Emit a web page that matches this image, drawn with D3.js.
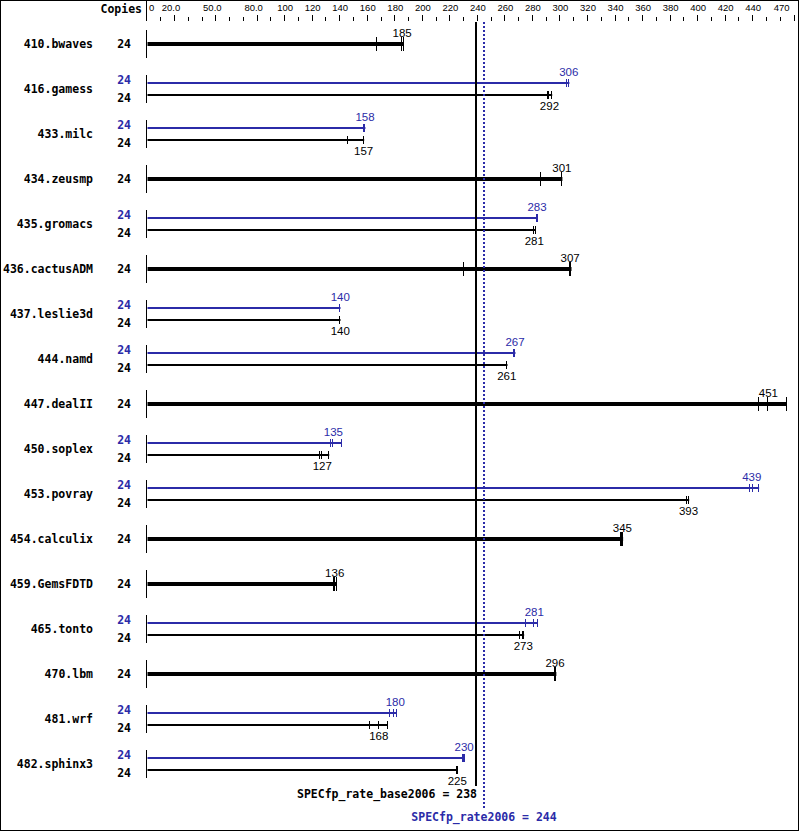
<!DOCTYPE html>
<html>
<head>
<meta charset="utf-8">
<script src="https://cdn.jsdelivr.net/npm/d3@7"></script>
<style>
  html, body { margin: 0; padding: 0; background: #fff; }
  svg { display: block; }
</style>
</head>
<body>
<script>
// ---- data ----
const benchmarks = ["410.bwaves","416.gamess","433.milc","434.zeusmp","435.gromacs","436.cactusADM","437.leslie3d","444.namd","447.dealII","450.soplex","453.povray","454.calculix","459.GemsFDTD","465.tonto","470.lbm","481.wrf","482.sphinx3"];
const copiesBase = [24,24,24,24,24,24,24,24,24,24,24,24,24,24,24,24,24];
const copiesPeak = [null,24,24,null,24,null,24,24,null,24,24,null,null,24,null,24,24];
const baseScores = [185,292,157,301,281,307,140,261,451,127,393,345,136,273,296,168,225];
const peakScores = [null,306,158,null,283,null,140,267,null,135,439,null,null,281,null,180,230];
const baseRuns = [
  [167,185,186],[291,292,294],[145.6,157,157.4],[285.7,301,301.4],[280.5,281,282],
  [230,307,308],[139.8,140,140.2],[261,261,261.5],[444,451,464.5],[125.5,127,132],
  [392,393,393.5],[344,345,345.5],[135.7,136,137.6],[270.7,273,273.6],[296,296.5,297],
  [161.3,168,174.4],[224.5,225,225.3]
];
const peakRuns = [
  null,[304.5,306,306.5],[157.5,158,158.3],null,[283,283,283.5],
  null,[139.8,140,140.2],[266,267,267.3],null,[133,135,141],
  [438,439.5,444.3],null,null,[275,281,283.5],null,
  [176.5,179,181.2],[229.5,230,230.3]
];
const majorTicks = [0,20,50,80,100,120,140,160,180,200,220,240,260,280,300,320,340,360,380,400,420,440,470];
const majorTickLabels = ["0","20.0","50.0","80.0","100","120","140","160","180","200","220","240","260","280","300","320","340","360","380","400","420","440","470"];
const minorTicks = [10,30,40,60,70,90,110,130,150,170,190,210,230,250,270,290,310,330,350,370,390,410,430,450,460];
const baseMeanLabel = "SPECfp_rate_base2006 = 238";
const peakMeanLabel = "SPECfp_rate2006 = 244";
const baseMean = 238;
const peakMean = 244;

// ---- layout ----
const W = 799, H = 831;
const BLUE = "#2b2ba8";
const MONO = "'DejaVu Sans Mono', 'Liberation Mono', monospace";
const SANS = "'Liberation Sans', Arial, sans-serif";

const svg = d3.select("body").append("svg").attr("width", W).attr("height", H);

const x = d3.scaleLinear().domain([0, 470]).range([147.5, 794.5]);
const y = d3.scalePoint().domain(benchmarks).range([44, 764]);

// border
svg.append("rect").attr("x", 0.5).attr("y", 0.5).attr("width", W - 1).attr("height", H - 1)
  .attr("fill", "none").attr("stroke", "#000");

// top axis
const axisG = svg.append("g");
axisG.append("line").attr("x1", 146.5).attr("x2", 146.5).attr("y1", 0).attr("y2", 21)
  .attr("stroke", "#000");
axisG.selectAll("line.maj").data(majorTicks.filter(d => d > 0)).join("line")
  .attr("class", "maj")
  .attr("x1", d => Math.round(x(d)) - 0.5).attr("x2", d => Math.round(x(d)) - 0.5)
  .attr("y1", 15).attr("y2", 21).attr("stroke", "#000");
axisG.selectAll("line.min").data(minorTicks).join("line")
  .attr("class", "min")
  .attr("x1", d => Math.round(x(d)) - 0.5).attr("x2", d => Math.round(x(d)) - 0.5)
  .attr("y1", 17).attr("y2", 21).attr("stroke", "#000");
axisG.selectAll("text").data(majorTicks).join("text")
  .attr("x", (d, i) => {
    const l = majorTickLabels[i];
    if (d === 0) return x(d) + 1.5;
    if (d === 470) return x(d) - 5;
    if (l.indexOf(".") >= 0) return x(d) - 4;
    return x(d);
  })
  .attr("y", 11)
  .attr("text-anchor", d => d === 0 ? "start" : (d === 470 ? "end" : "middle"))
  .attr("font-family", SANS).attr("font-size", "9.5px").attr("fill", "#000")
  .text((d, i) => majorTickLabels[i]);

svg.append("text").attr("x", 142).attr("y", 13).attr("text-anchor", "end")
  .attr("font-family", MONO).attr("font-weight", "bold").attr("font-size", "11.5px")
  .text("Copies");

// rows
const rows = svg.append("g").selectAll("g").data(benchmarks).join("g");

rows.each(function(name, i) {
  const g = d3.select(this);
  const cy = y(name);
  const hasPeak = peakScores[i] !== null;

  g.append("line").attr("x1", 146.5).attr("x2", 146.5)
    .attr("y1", cy - 14).attr("y2", cy + 14).attr("stroke", "#000");

  g.append("text").attr("x", 93).attr("y", cy + 3.5).attr("text-anchor", "end")
    .attr("font-family", MONO).attr("font-weight", "bold").attr("font-size", "11.5px")
    .attr("fill", "#000").text(name);

  if (!hasPeak) {
    const runs = baseRuns[i];
    const xEnd = x(d3.max(runs));
    g.append("rect").attr("x", x(0)).attr("y", cy - 2).attr("width", xEnd - x(0)).attr("height", 4)
      .attr("fill", "#000");
    g.selectAll("line.run").data(runs).join("line").attr("class", "run")
      .attr("x1", d => Math.round(x(d)) - 0.5).attr("x2", d => Math.round(x(d)) - 0.5)
      .attr("y1", cy - 7).attr("y2", cy + 7).attr("stroke", "#000");
    g.append("text").attr("x", 131).attr("y", cy + 3.5).attr("text-anchor", "end")
      .attr("font-family", MONO).attr("font-weight", "bold").attr("font-size", "11.5px")
      .attr("fill", "#000").text(copiesBase[i]);
    g.append("text").attr("x", x(baseScores[i])).attr("y", cy - 7).attr("text-anchor", "middle")
      .attr("font-family", SANS).attr("font-size", "11.5px").attr("fill", "#000")
      .text(baseScores[i]);
  } else {
    // peak (blue)
    const py = cy - 6, by = cy + 6;
    const pRuns = peakRuns[i], bRuns = baseRuns[i];
    g.append("rect").attr("x", x(0)).attr("y", py - 1).attr("width", x(d3.max(pRuns)) - x(0)).attr("height", 2)
      .attr("fill", BLUE);
    g.selectAll("line.prun").data(pRuns).join("line").attr("class", "prun")
      .attr("x1", d => Math.round(x(d)) - 0.5).attr("x2", d => Math.round(x(d)) - 0.5)
      .attr("y1", py - 4).attr("y2", py + 4).attr("stroke", BLUE);
    g.append("rect").attr("x", x(0)).attr("y", by - 1).attr("width", x(d3.max(bRuns)) - x(0)).attr("height", 2)
      .attr("fill", "#000");
    g.selectAll("line.brun").data(bRuns).join("line").attr("class", "brun")
      .attr("x1", d => Math.round(x(d)) - 0.5).attr("x2", d => Math.round(x(d)) - 0.5)
      .attr("y1", by - 4).attr("y2", by + 4).attr("stroke", "#000");

    g.append("text").attr("x", 131).attr("y", cy - 5).attr("text-anchor", "end")
      .attr("font-family", MONO).attr("font-weight", "bold").attr("font-size", "11.5px")
      .attr("fill", BLUE).text(copiesPeak[i]);
    g.append("text").attr("x", 131).attr("y", cy + 13).attr("text-anchor", "end")
      .attr("font-family", MONO).attr("font-weight", "bold").attr("font-size", "11.5px")
      .attr("fill", "#000").text(copiesBase[i]);

    g.append("text").attr("x", x(peakScores[i])).attr("y", py - 7).attr("text-anchor", "middle")
      .attr("font-family", SANS).attr("font-size", "11.5px").attr("fill", BLUE)
      .text(peakScores[i]);
    g.append("text").attr("x", x(baseScores[i])).attr("y", by + 15).attr("text-anchor", "middle")
      .attr("font-family", SANS).attr("font-size", "11.5px").attr("fill", "#000")
      .text(baseScores[i]);
  }
});

// mean lines
svg.append("line").attr("x1", Math.round(x(baseMean)) + 1).attr("x2", Math.round(x(baseMean)) + 1)
  .attr("y1", 22).attr("y2", 786).attr("stroke", "#000").attr("stroke-width", 2);
svg.append("line").attr("x1", Math.round(x(peakMean)) + 1).attr("x2", Math.round(x(peakMean)) + 1)
  .attr("y1", 22).attr("y2", 808).attr("stroke", BLUE).attr("stroke-width", 2)
  .attr("stroke-dasharray", "2,2");

svg.append("text").attr("x", Math.round(x(baseMean)) + 2).attr("y", 798).attr("text-anchor", "end")
  .attr("font-family", MONO).attr("font-weight", "bold").attr("font-size", "11.5px")
  .attr("fill", "#000").text(baseMeanLabel);
svg.append("text").attr("x", Math.round(x(peakMean)) + 1).attr("y", 821).attr("text-anchor", "middle")
  .attr("font-family", MONO).attr("font-weight", "bold").attr("font-size", "11.5px")
  .attr("fill", BLUE).text(peakMeanLabel);
</script>
</body>
</html>
